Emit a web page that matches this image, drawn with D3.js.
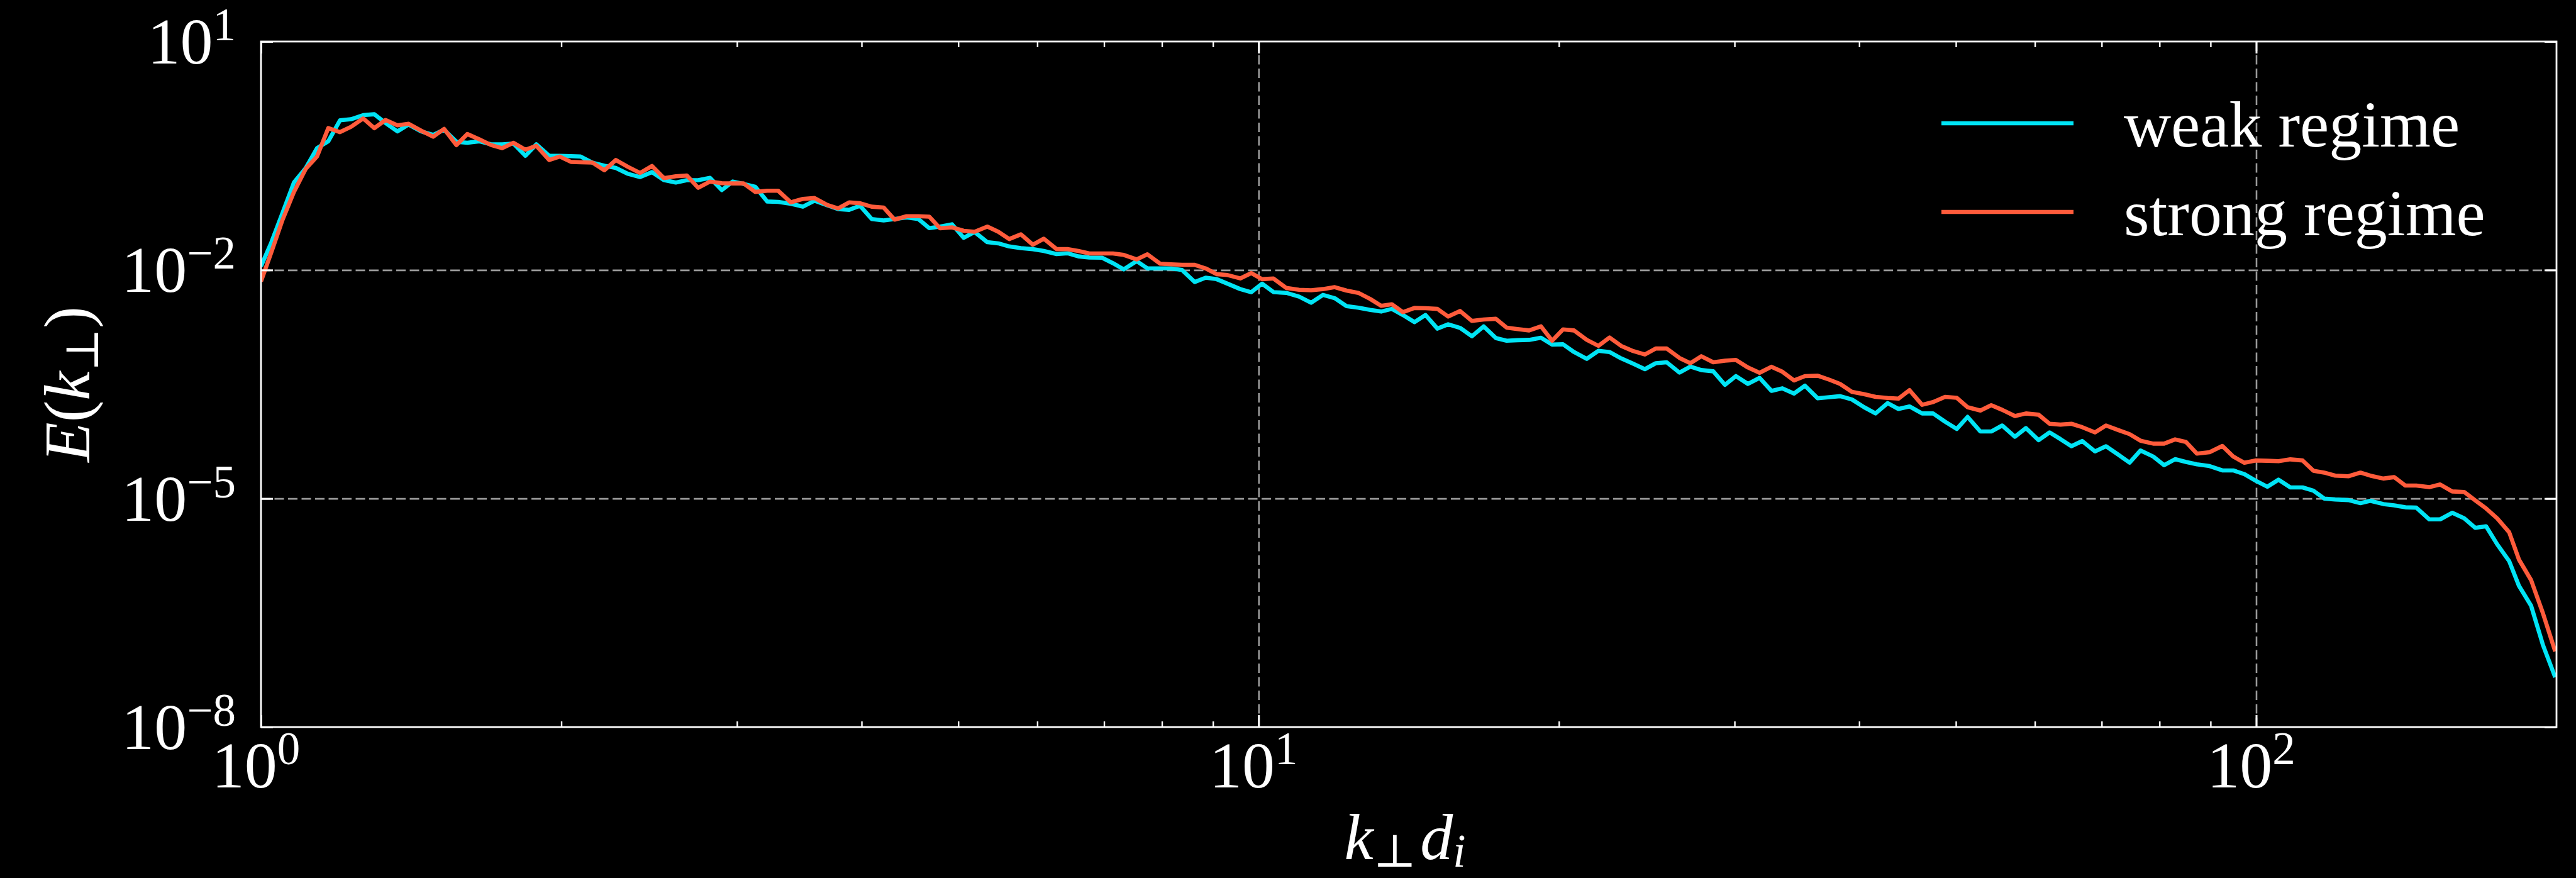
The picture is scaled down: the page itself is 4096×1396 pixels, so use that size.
<!DOCTYPE html>
<html>
<head>
<meta charset="utf-8">
<script src="https://cdn.jsdelivr.net/npm/d3@7"></script>
<style>
  html, body { margin: 0; padding: 0; background: #000; }
  svg { display: block; }
  text { font-family: "Liberation Serif", "DejaVu Serif", serif; fill: #fff; }
</style>
</head>
<body>
<svg id="chart" width="4096" height="1396"></svg>
<script>
// k_perp d_i bins (shared by both runs)
var kPerp = [
  1.000, 1.024, 1.051, 1.079, 1.109, 1.138, 1.168, 1.200, 1.231, 1.266, 1.299, 1.333, 1.370, 1.406,
  1.447, 1.488, 1.526, 1.570, 1.610, 1.655, 1.701, 1.745, 1.791, 1.841, 1.888, 1.945, 1.993, 2.045,
  2.091, 2.149, 2.209, 2.268, 2.333, 2.399, 2.466, 2.534, 2.605, 2.672, 2.743, 2.819, 2.897,
  2.971, 3.046, 3.129, 3.217, 3.299, 3.397, 3.493, 3.588, 3.695, 3.789, 3.886, 3.986, 4.094, 4.209,
  4.316, 4.438, 4.559, 4.676, 4.794, 4.928, 5.063, 5.192, 5.347, 5.484, 5.623, 5.777, 5.938, 6.091,
  6.274, 6.433, 6.596, 6.766, 6.967, 7.145, 7.326, 7.546, 7.737, 7.969, 8.171, 8.381, 8.629, 8.851,
  9.077, 9.310, 9.585, 9.831, 10.08,
  10.35, 10.66, 10.98, 11.29, 11.60, 11.92, 12.25, 12.59, 12.94, 13.27, 13.60, 13.95, 14.33, 14.70,
  15.11, 15.49, 15.92, 16.36, 16.81, 17.29, 17.73, 18.18, 18.67, 19.19, 19.69, 20.19, 20.71, 21.33,
  21.91, 22.48, 23.09, 23.74, 24.39, 25.01, 25.65, 26.42, 27.09, 27.78, 28.56, 29.34, 30.09, 30.94,
  31.78, 32.67, 33.50, 34.41, 35.29,
  36.35, 37.34, 38.28, 39.33, 40.46, 41.54, 42.71, 43.79, 44.92, 46.25, 47.44, 48.77, 50.10, 51.37,
  52.91, 54.25, 55.64, 57.30, 58.77, 60.52, 62.07, 63.65, 65.28, 66.93, 68.93, 70.70, 72.68, 74.66,
  76.56, 78.85, 80.85, 82.93, 85.04, 87.21, 89.80, 92.49, 94.84,
  97.32, 99.82, 102.6, 105.3, 108.2, 111.3, 114.1, 117.0, 120.0, 123.7, 127.2, 130.1, 134.1, 137.5,
  141.1, 144.7, 149.1, 152.9, 157.2, 161.6, 165.8, 170.0, 174.4, 179.3, 183.4, 188.6, 193.9, 199.4
];

var energyWeak = [
  1.12e-2, 2.29e-2, 5.62e-2, 0.141, 0.219, 0.398, 0.490, 0.923, 0.955, 1.08, 1.11, 0.851, 0.661, 0.813,
  0.661, 0.594, 0.695, 0.483, 0.468, 0.490, 0.447, 0.447, 0.457, 0.316, 0.447, 0.316, 0.316, 0.313,
  0.309, 0.257, 0.234, 0.219, 0.183, 0.166, 0.193, 0.152, 0.141, 0.151, 0.151, 0.162, 0.112,
  0.145, 0.135, 0.124, 7.94e-2, 7.85e-2, 7.41e-2, 6.79e-2, 8.13e-2, 7.08e-2, 6.31e-2, 6.17e-2, 6.97e-2,
  4.68e-2, 4.47e-2, 4.68e-2, 4.90e-2, 4.68e-2, 3.55e-2, 3.72e-2, 3.98e-2, 2.65e-2, 3.16e-2, 2.32e-2,
  2.24e-2, 2.04e-2, 1.94e-2, 1.88e-2, 1.78e-2, 1.62e-2, 1.66e-2, 1.51e-2, 1.46e-2, 1.45e-2, 1.23e-2,
  1.02e-2, 1.31e-2, 1.05e-2, 1.05e-2, 1.05e-2, 1.00e-2, 6.97e-3, 7.94e-3, 7.59e-3, 6.61e-3, 5.62e-3,
  5.11e-3, 6.62e-3,
  5.13e-3, 5.01e-3, 4.48e-3, 3.72e-3, 4.71e-3, 4.27e-3, 3.36e-3, 3.20e-3, 2.99e-3, 2.85e-3, 3.09e-3,
  2.57e-3, 2.07e-3, 2.57e-3, 1.70e-3, 1.94e-3, 1.74e-3, 1.35e-3, 1.82e-3, 1.28e-3, 1.18e-3, 1.20e-3,
  1.21e-3, 1.29e-3, 1.05e-3, 1.06e-3, 8.39e-4, 6.82e-4, 8.71e-4, 8.39e-4, 6.92e-4, 5.89e-4, 4.99e-4,
  5.98e-4, 6.15e-4, 4.50e-4, 5.40e-4, 4.86e-4, 4.68e-4, 3.11e-4, 4.05e-4, 3.20e-4, 3.84e-4, 2.59e-4,
  2.80e-4, 2.39e-4, 3.03e-4,
  2.07e-4, 2.14e-4, 2.21e-4, 2.00e-4, 1.58e-4, 1.31e-4, 1.79e-4, 1.50e-4, 1.62e-4, 1.31e-4, 1.31e-4,
  1.02e-4, 8.20e-5, 1.18e-4, 7.59e-5, 7.59e-5, 9.10e-5, 6.47e-5, 8.41e-5, 5.83e-5, 7.38e-5, 6.03e-5,
  4.86e-5, 5.69e-5, 4.16e-5, 4.86e-5, 3.80e-5, 2.96e-5, 4.27e-5, 3.56e-5, 2.74e-5, 3.29e-5, 3.02e-5,
  2.81e-5, 2.67e-5, 2.34e-5, 2.34e-5,
  2.09e-5, 1.72e-5, 1.43e-5, 1.77e-5, 1.40e-5, 1.40e-5, 1.27e-5, 1.00e-5, 9.72e-6, 9.55e-6, 8.71e-6,
  9.33e-6, 8.47e-6, 8.13e-6, 7.67e-6, 7.59e-6, 5.33e-6, 5.33e-6, 6.50e-6, 5.50e-6, 4.12e-6, 4.32e-6,
  2.51e-6, 1.51e-6, 7.13e-7, 3.92e-7, 1.18e-7, 4.51e-8
];

var energyStrong = [
  7.08e-3, 1.70e-2, 4.57e-2, 0.106, 0.214, 0.309, 0.729, 0.646, 0.759, 0.977, 0.729, 0.933, 0.794, 0.832,
  0.676, 0.562, 0.713, 0.437, 0.610, 0.521, 0.437, 0.398, 0.468, 0.380, 0.427, 0.278, 0.309, 0.263,
  0.260, 0.257, 0.204, 0.278, 0.226, 0.188, 0.232, 0.161, 0.170, 0.174, 0.120, 0.145, 0.138,
  0.137, 0.137, 0.106, 0.110, 0.110, 7.73e-2, 8.59e-2, 8.81e-2, 7.14e-2, 6.44e-2, 7.73e-2, 7.53e-2,
  6.79e-2, 6.61e-2, 4.58e-2, 5.09e-2, 5.09e-2, 5.01e-2, 3.53e-2, 3.63e-2, 3.27e-2, 3.18e-2, 3.72e-2,
  3.18e-2, 2.55e-2, 2.94e-2, 2.15e-2, 2.58e-2, 1.88e-2, 1.88e-2, 1.78e-2, 1.65e-2, 1.65e-2, 1.65e-2,
  1.58e-2, 1.38e-2, 1.61e-2, 1.21e-2, 1.19e-2, 1.17e-2, 1.17e-2, 1.05e-2, 8.83e-3, 8.59e-3, 7.76e-3,
  9.12e-3, 7.59e-3,
  7.74e-3, 5.81e-3, 5.51e-3, 5.43e-3, 5.62e-3, 5.96e-3, 5.37e-3, 5.01e-3, 4.17e-3, 3.39e-3, 3.55e-3,
  2.80e-3, 3.18e-3, 3.16e-3, 3.09e-3, 2.45e-3, 2.90e-3, 2.15e-3, 2.24e-3, 2.29e-3, 1.75e-3, 1.68e-3,
  1.61e-3, 1.82e-3, 1.18e-3, 1.66e-3, 1.61e-3, 1.21e-3, 1.01e-3, 1.30e-3, 1.01e-3, 8.63e-4, 7.78e-4,
  9.33e-4, 9.33e-4, 7.00e-4, 5.98e-4, 7.38e-4, 6.15e-4, 6.46e-4, 6.61e-4, 5.25e-4, 4.47e-4, 5.37e-4,
  4.62e-4, 3.55e-4, 4.05e-4,
  4.10e-4, 3.63e-4, 3.19e-4, 2.52e-4, 2.34e-4, 2.16e-4, 2.09e-4, 2.05e-4, 2.65e-4, 1.70e-4, 1.85e-4,
  2.16e-4, 2.10e-4, 1.58e-4, 1.43e-4, 1.68e-4, 1.46e-4, 1.21e-4, 1.31e-4, 1.26e-4, 9.59e-5, 9.35e-5,
  9.59e-5, 8.65e-5, 7.38e-5, 9.10e-5, 7.94e-5, 7.01e-5, 5.75e-5, 5.26e-5, 5.26e-5, 5.98e-5, 5.53e-5,
  3.89e-5, 4.06e-5, 4.90e-5, 3.56e-5,
  2.95e-5, 3.16e-5, 3.13e-5, 3.09e-5, 3.27e-5, 3.16e-5, 2.32e-5, 2.19e-5, 2.00e-5, 1.96e-5, 2.19e-5,
  2.00e-5, 1.83e-5, 1.91e-5, 1.48e-5, 1.48e-5, 1.41e-5, 1.53e-5, 1.24e-5, 1.22e-5, 9.44e-6, 7.41e-6,
  5.50e-6, 3.61e-6, 1.58e-6, 8.51e-7, 3.08e-7, 9.84e-8
];

var seriesNames = ["weak regime", "strong regime"];
var seriesColors = ["#00e4f5", "#ff5b3b"];

var xMajorTicks = [1, 10, 100];
var xTickExponents = ["0", "1", "2"];
var xMinorTicks = [2, 3, 4, 5, 6, 7, 8, 9, 20, 30, 40, 50, 60, 70, 80, 90];
var yMajorTicks = [1e1, 1e-2, 1e-5, 1e-8];
var yTickExponents = ["1", "\u22122", "\u22125", "\u22128"];

var W = 4096, H = 1396;
var plot = { left: 415, right: 4065, top: 66, bottom: 1156 };
var fontSize = 104, supSize = 73;
var lineWidth = 6.6;

var svg = d3.select("#chart");
svg.append("rect").attr("width", W).attr("height", H).attr("fill", "#000");

var x = d3.scaleLog().domain([1, 200]).range([plot.left, plot.right]);
var y = d3.scaleLog().domain([1e-8, 10]).range([plot.bottom, plot.top]);
var plotW = plot.right - plot.left, plotH = plot.bottom - plot.top;

function styleAxis(g, width, color, dash) {
  g.select(".domain").remove();
  g.selectAll("line")
    .attr("stroke", color)
    .attr("stroke-width", width)
    .attr("stroke-dasharray", dash || null);
  return g;
}

// dashed grid at the major decades
svg.append("g")
  .attr("transform", "translate(0," + plot.bottom + ")")
  .call(d3.axisBottom(x).tickValues([10, 100]).tickSize(-plotH).tickFormat(""))
  .call(styleAxis, 2.6, "#9a9a9a", "15,6.5");
svg.append("g")
  .attr("transform", "translate(" + plot.left + ",0)")
  .call(d3.axisLeft(y).tickValues([1e-2, 1e-5]).tickSize(-plotW).tickFormat(""))
  .call(styleAxis, 2.6, "#9a9a9a", "15,6.5");

// spectra
svg.append("clipPath").attr("id", "plot-clip")
  .append("rect").attr("x", plot.left).attr("y", plot.top).attr("width", plotW).attr("height", plotH);

var line = d3.line()
  .x(function(d) { return x(d[0]); })
  .y(function(d) { return y(d[1]); });

[energyWeak, energyStrong].forEach(function(series, i) {
  svg.append("path")
    .datum(d3.zip(kPerp, series))
    .attr("clip-path", "url(#plot-clip)")
    .attr("fill", "none")
    .attr("stroke", seriesColors[i])
    .attr("stroke-width", lineWidth)
    .attr("stroke-linejoin", "round")
    .attr("d", line);
});

// inward ticks on all four sides
var majorLen = 19, minorLen = 9;
svg.append("g").attr("transform", "translate(0," + plot.bottom + ")")
  .call(d3.axisBottom(x).tickValues(xMajorTicks).tickSize(-majorLen).tickFormat(""))
  .call(styleAxis, 3, "#fff");
svg.append("g").attr("transform", "translate(0," + plot.bottom + ")")
  .call(d3.axisBottom(x).tickValues(xMinorTicks).tickSize(-minorLen).tickFormat(""))
  .call(styleAxis, 2.4, "#fff");
svg.append("g").attr("transform", "translate(0," + plot.top + ")")
  .call(d3.axisTop(x).tickValues(xMajorTicks).tickSize(-majorLen).tickFormat(""))
  .call(styleAxis, 3, "#fff");
svg.append("g").attr("transform", "translate(0," + plot.top + ")")
  .call(d3.axisTop(x).tickValues(xMinorTicks).tickSize(-minorLen).tickFormat(""))
  .call(styleAxis, 2.4, "#fff");
svg.append("g").attr("transform", "translate(" + plot.left + ",0)")
  .call(d3.axisLeft(y).tickValues(yMajorTicks).tickSize(-majorLen).tickFormat(""))
  .call(styleAxis, 3, "#fff");
svg.append("g").attr("transform", "translate(" + plot.right + ",0)")
  .call(d3.axisRight(y).tickValues(yMajorTicks).tickSize(-majorLen).tickFormat(""))
  .call(styleAxis, 3, "#fff");

// frame
svg.append("rect")
  .attr("x", plot.left).attr("y", plot.top)
  .attr("width", plotW).attr("height", plotH)
  .attr("fill", "none").attr("stroke", "#fff").attr("stroke-width", 2.8);

// tick labels: 10^n
function powerLabel(sel, exponent) {
  sel.append("tspan").text("10");
  sel.append("tspan").attr("font-size", supSize).attr("dy", -37).text(exponent);
}

xMajorTicks.forEach(function(v, i) {
  svg.append("text")
    .attr("x", x(v) - 8).attr("y", 1252)
    .attr("text-anchor", "middle")
    .attr("font-size", fontSize)
    .call(powerLabel, xTickExponents[i]);
});

yMajorTicks.forEach(function(v, i) {
  svg.append("text")
    .attr("x", 375).attr("y", y(v) + 35)
    .attr("text-anchor", "end")
    .attr("font-size", fontSize)
    .call(powerLabel, yTickExponents[i]);
});

// axis labels
var xLabel = svg.append("text")
  .attr("x", 2234).attr("y", 1366)
  .attr("text-anchor", "middle")
  .attr("font-size", fontSize);
xLabel.append("tspan").attr("font-style", "italic").text("k");
xLabel.append("tspan").attr("font-size", supSize).attr("dy", 12).text("\u22a5");
xLabel.append("tspan").attr("font-style", "italic").attr("dy", -12).attr("dx", 6).text("d");
xLabel.append("tspan").attr("font-style", "italic").attr("font-size", supSize).attr("dy", 12).text("i");

var yLabel = svg.append("text")
  .attr("transform", "translate(142," + (plot.top + plotH / 2) + ") rotate(-90)")
  .attr("text-anchor", "middle")
  .attr("font-size", fontSize);
yLabel.append("tspan").attr("font-style", "italic").text("E");
yLabel.append("tspan").text("(");
yLabel.append("tspan").attr("font-style", "italic").text("k");
yLabel.append("tspan").attr("font-size", supSize).attr("dy", 14).text("\u22a5");
yLabel.append("tspan").attr("dy", -14).text(")");

// legend
var legend = svg.append("g");
seriesNames.forEach(function(name, i) {
  var baseY = 233 + i * 141;
  legend.append("line")
    .attr("x1", 3087).attr("x2", 3297)
    .attr("y1", baseY - 37).attr("y2", baseY - 37)
    .attr("stroke", seriesColors[i]).attr("stroke-width", lineWidth);
  legend.append("text")
    .attr("x", 3377).attr("y", baseY)
    .attr("font-size", fontSize)
    .text(name);
});
</script>
</body>
</html>
